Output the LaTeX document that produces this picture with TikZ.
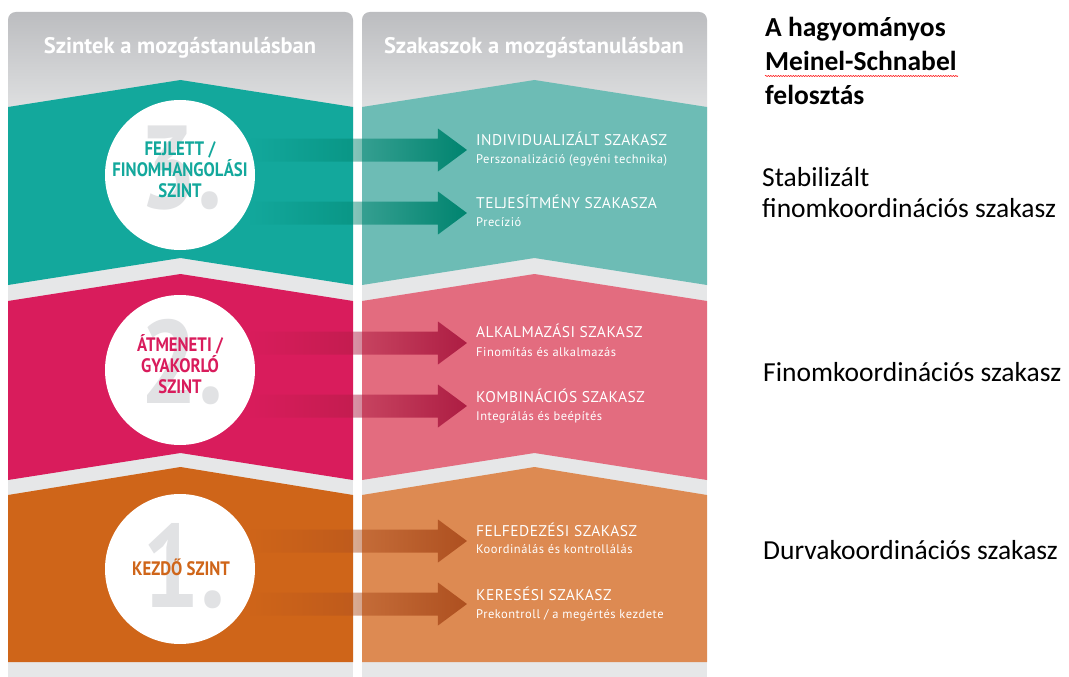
\documentclass[tikz,border=0pt]{standalone}
\usepackage{fontspec}
\setmainfont{Carlito}
\newfontfamily\dinfont[FakeStretch=0.86]{PT Sans}
\newfontfamily\dinplain{PT Sans}
\newfontfamily\dintitle[LetterSpace=3]{PT Sans}
\newfontfamily\dinsub[LetterSpace=4]{PT Sans}
\usetikzlibrary{fadings,decorations.pathmorphing}

\definecolor{headgray}{HTML}{BCBDC0}
\definecolor{gapgray}{HTML}{E6E7E8}
\definecolor{numgray}{HTML}{E1E2E4}
\definecolor{lvlteal}{HTML}{13A89C}
\definecolor{lvltealpale}{HTML}{6DBCB5}
\definecolor{lvltealdark}{HTML}{00846F}
\definecolor{lvlpink}{HTML}{D91C5C}
\definecolor{lvlpinkpale}{HTML}{E36C7F}
\definecolor{lvlpinkdark}{HTML}{AD1D43}
\definecolor{lvlorange}{HTML}{CF6519}
\definecolor{lvlorangepale}{HTML}{DD8A52}
\definecolor{lvlorangedark}{HTML}{AE5020}

\tikzfading[name=arrowfade, left color=transparent!100, right color=transparent!0]

\tikzset{
  levelcircle/.style={circle, fill=white, minimum size=150pt, inner sep=0pt},
  bignum/.style={font=\dinfont\bfseries\fontsize{118}{118}\selectfont, text=numgray, anchor=base, inner sep=0pt},
  levellabel/.style={font=\dinfont\bfseries\fontsize{19.5}{21}\selectfont, align=center, inner sep=0pt},
  phasetitle/.style={font=\dintitle\fontsize{15.5}{15.5}\selectfont, text=white, anchor=base west, inner sep=0pt},
  phasesub/.style={font=\dinsub\fontsize{12.5}{12.5}\selectfont, text=white, anchor=base west, inner sep=0pt},
  headtext/.style={font=\dinplain\bfseries\fontsize{22.5}{22.5}\selectfont, text=white, anchor=base, inner sep=0pt},
  sidetext/.style={font=\fontsize{27.5}{31}\selectfont, anchor=base west, align=left, inner sep=0pt}
}

\begin{document}
\begin{tikzpicture}[x=1pt, y=-1pt]
  \useasboundingbox[fill=white] (0,0) rectangle (1069,677);

  % two gray panels with shaded header
  \foreach \x in {8, 362} {
    \begin{scope}
      \clip[rounded corners=8pt] (\x,12) rectangle ++(345,700);
      \fill[gapgray] (\x,12) rectangle ++(345,665);
      \shade[top color=headgray, bottom color=gapgray] (\x,12) rectangle ++(345,118);
    \end{scope}
  }

  % chevron bands
  \foreach \x/\tone in {8/, 362/pale} {
    \fill[lvlteal\tone] (\x,107) -- ++(172.5,-27) -- ++(172.5,27) -- ++(0,178) -- ++(-172.5,-27) -- ++(-172.5,27) -- cycle;
    \fill[lvlpink\tone] (\x,301) -- ++(172.5,-27) -- ++(172.5,27) -- ++(0,179) -- ++(-172.5,-27) -- ++(-172.5,27) -- cycle;
    \fill[lvlorange\tone] (\x,495) -- ++(172.5,-28) -- ++(172.5,28) -- ++(0,167) -- ++(-345,0) -- cycle;
  }

  \node[headtext] (headl) at (180,54) {Szintek a mozgástanulásban};
  \node[headtext] (headr) at (534,54) {Szakaszok a mozgástanulásban};

  % levels
  \node[levelcircle] (lvl3) at (180,175) {};
  \node[bignum] (num3) at (181,208) {3.};
  \node[levellabel, text=lvlteal] (lab3) at (180,170) {FEJLETT /\\FINOMHANGOLÁSI\\SZINT};

  \node[levelcircle] (lvl2) at (180,370) {};
  \node[bignum] (num2) at (182,403) {2.};
  \node[levellabel, text=lvlpink] (lab2) at (180,364) {ÁTMENETI /\\GYAKORLÓ\\SZINT};

  \node[levelcircle] (lvl1) at (180,569) {};
  \node[bignum] (num1) at (184,607) {1.};
  \node[levellabel, text=lvlorange] (lab1) at (181,567) {KEZDŐ SZINT};

  % arrows
  \foreach \y/\col in {150/lvltealdark, 213/lvltealdark, 343/lvlpinkdark, 406/lvlpinkdark, 541/lvlorangedark, 604/lvlorangedark}
    \fill[\col, path fading=arrowfade] (250,\y-11.5) -- (438,\y-11.5) -- (438,\y-21.5) -- (467,\y) -- (438,\y+21.5) -- (438,\y+11.5) -- (250,\y+11.5) -- cycle;

  % phases
  \node[phasetitle] (ph3a) at (476,145) {INDIVIDUALIZÁLT SZAKASZ};
  \node[phasesub] (ph3as) at (476,163) {Perszonalizáció (egyéni technika)};
  \node[phasetitle] (ph3b) at (476,208) {TELJESÍTMÉNY SZAKASZA};
  \node[phasesub] (ph3bs) at (476,226) {Precízió};
  \node[phasetitle] (ph2a) at (476,337) {ALKALMAZÁSI SZAKASZ};
  \node[phasesub] (ph2as) at (476,356) {Finomítás és alkalmazás};
  \node[phasetitle] (ph2b) at (476,402) {KOMBINÁCIÓS SZAKASZ};
  \node[phasesub] (ph2bs) at (476,420) {Integrálás és beépítés};
  \node[phasetitle] (ph1a) at (476,536) {FELFEDEZÉSI SZAKASZ};
  \node[phasesub] (ph1as) at (476,553) {Koordinálás és kontrollálás};
  \node[phasetitle] (ph1b) at (476,600) {KERESÉSI SZAKASZ};
  \node[phasesub] (ph1bs) at (476,618) {Prekontroll / a megértés kezdete};

  % Meinel-Schnabel side notes
  \node[sidetext, font=\bfseries\fontsize{27.5}{34}\selectfont] (title) at (765,104) {A hagyományos\\Meinel-Schnabel\\felosztás};
  \draw[red, line width=0.5pt, decorate, decoration={snake, amplitude=0.6pt, segment length=2.5pt}] (765,76) -- (958,76);
  \node[sidetext] (stab) at (762,217) {Stabilizált\\finomkoordinációs szakasz};
  \node[sidetext] (fine) at (763,381) {Finomkoordinációs szakasz};
  \node[sidetext] (coarse) at (763,559) {Durvakoordinációs szakasz};
\end{tikzpicture}
\end{document}
